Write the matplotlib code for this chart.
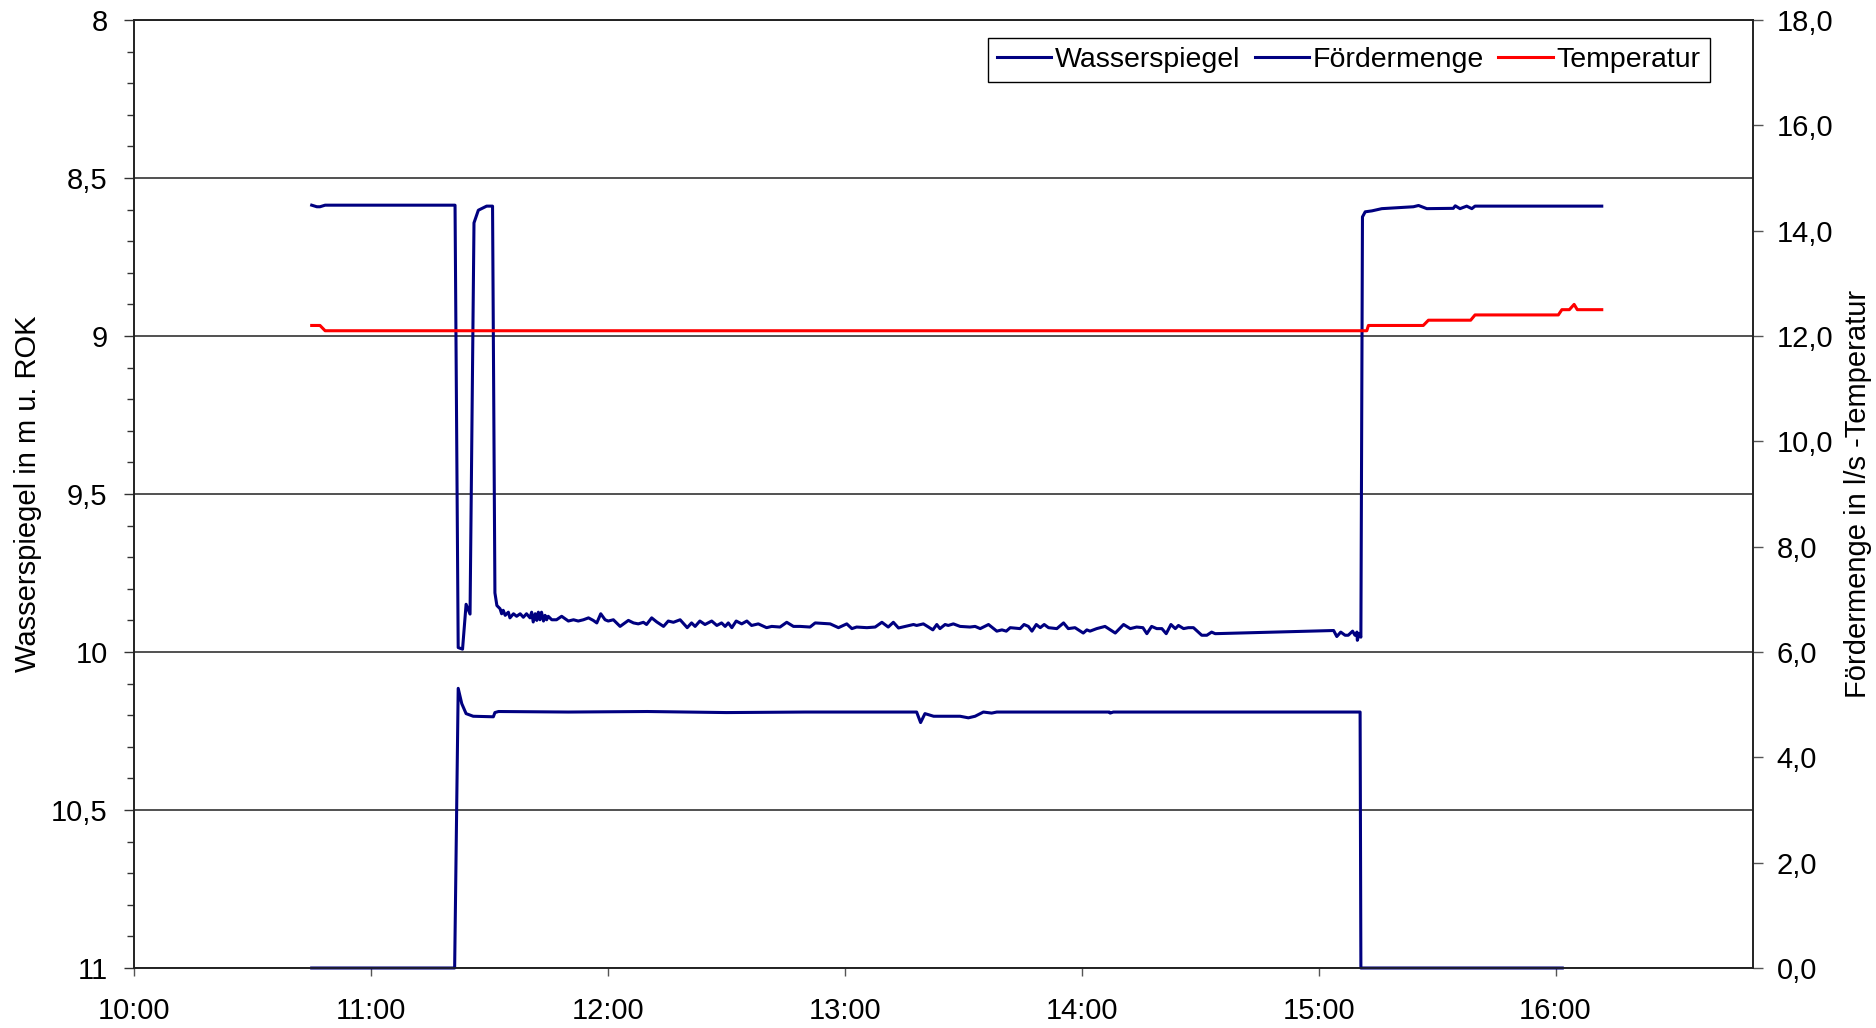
import numpy as np
import matplotlib
matplotlib.use("Agg")
import matplotlib.pyplot as plt
from matplotlib.ticker import MultipleLocator, FixedLocator, FixedFormatter

plt.rcParams['font.family'] = ['Liberation Sans', 'DejaVu Sans']

# time in minutes after 10:00
# Wasserspiegel in m u. ROK (left axis, inverted)
ws_points = [
    (45.0, 8.586), (46.3, 8.591), (47.1, 8.591), (48.4, 8.586), (81.3, 8.586),
    (82.1, 9.986), (83.2, 9.991), (84.1, 9.849), (85.1, 9.880), (86.1, 8.642),
    (87.2, 8.602), (89.3, 8.589), (90.8, 8.589), (91.4, 9.813), (91.9, 9.853),
    (92.7, 9.863), (93.1, 9.879), (93.5, 9.868), (94.0, 9.884), (94.8, 9.874),
    (95.2, 9.892), (96.1, 9.879), (96.9, 9.887), (97.8, 9.879), (98.6, 9.890),
    (99.4, 9.879), (100.3, 9.892), (100.7, 9.874), (101.1, 9.905), (101.6, 9.879),
    (102.0, 9.900), (102.4, 9.874), (102.8, 9.898), (103.2, 9.874), (103.7, 9.902),
    (104.1, 9.884), (104.5, 9.898), (104.9, 9.887), (105.8, 9.898), (107.0, 9.898),
    (108.3, 9.887), (110.0, 9.902), (111.3, 9.898), (112.5, 9.902), (113.8, 9.898),
    (115.1, 9.892), (116.3, 9.900), (117.2, 9.908), (118.2, 9.879), (119.3, 9.898),
    (120.1, 9.902), (121.4, 9.898), (123.1, 9.919), (125.2, 9.900), (126.5, 9.908),
    (127.7, 9.911), (129.0, 9.906), (129.8, 9.913), (131.1, 9.892), (132.4, 9.905),
    (134.1, 9.919), (135.3, 9.902), (136.6, 9.906), (138.3, 9.898), (140.1, 9.923),
    (141.2, 9.908), (142.1, 9.919), (143.3, 9.902), (144.6, 9.913), (146.3, 9.902),
    (147.6, 9.916), (148.8, 9.908), (149.7, 9.919), (150.5, 9.908), (151.4, 9.923),
    (152.5, 9.902), (153.9, 9.911), (155.2, 9.902), (156.4, 9.916), (158.1, 9.911),
    (160.2, 9.923), (161.5, 9.919), (163.6, 9.921), (165.3, 9.906), (167.0, 9.919),
    (168.7, 9.919), (171.2, 9.921), (172.5, 9.908), (176.3, 9.911), (178.4, 9.923),
    (180.5, 9.911), (181.8, 9.926), (183.0, 9.921), (185.6, 9.923), (187.7, 9.921),
    (189.4, 9.906), (191.0, 9.921), (192.3, 9.906), (193.6, 9.924), (195.3, 9.919),
    (197.4, 9.913), (198.2, 9.916), (199.9, 9.911), (201.2, 9.921), (202.3, 9.930),
    (203.3, 9.913), (204.1, 9.926), (205.4, 9.913), (206.2, 9.916), (207.5, 9.911),
    (209.2, 9.919), (211.7, 9.921), (213.0, 9.919), (214.3, 9.926), (216.4, 9.913),
    (218.5, 9.934), (219.8, 9.930), (220.9, 9.934), (221.9, 9.923), (224.4, 9.926),
    (225.4, 9.913), (226.5, 9.919), (227.4, 9.934), (228.5, 9.913), (229.5, 9.923),
    (230.5, 9.913), (231.6, 9.923), (233.7, 9.926), (235.4, 9.908), (236.6, 9.926),
    (238.3, 9.923), (240.4, 9.940), (241.3, 9.930), (242.1, 9.934), (243.8, 9.926),
    (245.9, 9.919), (248.5, 9.940), (250.6, 9.913), (252.3, 9.926), (253.9, 9.921),
    (255.5, 9.923), (256.5, 9.942), (257.7, 9.919), (259.0, 9.926), (260.3, 9.926),
    (261.4, 9.942), (262.6, 9.913), (263.7, 9.926), (264.5, 9.916), (265.8, 9.926),
    (267.0, 9.923), (268.3, 9.923), (270.4, 9.947), (271.7, 9.947), (272.9, 9.937),
    (273.8, 9.942), (303.8, 9.932), (304.6, 9.951), (305.6, 9.937), (306.7, 9.947),
    (307.5, 9.947), (308.6, 9.934), (309.2, 9.947), (309.7, 9.937), (309.8, 9.963),
    (310.3, 9.942), (310.7, 9.953), (311.1, 8.623), (311.8, 8.607), (313.5, 8.604),
    (316.0, 8.597), (324.0, 8.591), (325.3, 8.587), (327.4, 8.597), (334.1, 8.596),
    (334.6, 8.588), (335.8, 8.597), (337.5, 8.589), (338.8, 8.597), (339.6, 8.589),
    (371.7, 8.589),
]

# Fördermenge in l/s (right axis)
fm_points = [
    (45.0, 0.0), (81.2, 0.0), (82.1, 5.31), (83.0, 5.02), (84.1, 4.83),
    (85.9, 4.78), (91.0, 4.77), (91.4, 4.85), (92.3, 4.87), (110.0, 4.86),
    (130.0, 4.87), (150.0, 4.85), (170.0, 4.86), (198.2, 4.86), (199.2, 4.66),
    (200.3, 4.83), (202.5, 4.78), (209.2, 4.78), (211.3, 4.75), (213.0, 4.78),
    (215.1, 4.86), (217.2, 4.84), (218.5, 4.86), (247.0, 4.86), (247.2, 4.84),
    (248.0, 4.86), (280.0, 4.86), (310.5, 4.86), (310.7, 0.0), (361.7, 0.0),
]

# Temperatur (right axis)
temp_points = [
    (45.0, 12.2), (47.1, 12.2), (48.4, 12.1), (312.2, 12.1), (312.6, 12.2),
    (326.5, 12.2), (327.8, 12.3), (338.5, 12.3), (339.6, 12.4), (360.7, 12.4),
    (361.6, 12.5), (363.5, 12.5), (364.7, 12.6), (365.5, 12.5), (371.7, 12.5),
]

x_ticks = [0, 60, 120, 180, 240, 300, 360]
x_labels = ['10:00', '11:00', '12:00', '13:00', '14:00', '15:00', '16:00']
left_ticks = [8, 8.5, 9, 9.5, 10, 10.5, 11]
left_labels = ['8', '8,5', '9', '9,5', '10', '10,5', '11']
right_ticks = [0, 2, 4, 6, 8, 10, 12, 14, 16, 18]
right_labels = ['0,0', '2,0', '4,0', '6,0', '8,0', '10,0', '12,0', '14,0', '16,0', '18,0']

navy = '#000080'
fs = 21

ws = np.array(ws_points)
fm = np.array(fm_points)
tp = np.array(temp_points)

fig = plt.figure(figsize=(18.76, 10.28), dpi=100)
ax = fig.add_axes([134/1876, 1 - 968/1028, (1753-134)/1876, (968-20)/1028])
ax2 = ax.twinx()

l1, = ax.plot(ws[:, 0], ws[:, 1], color=navy, lw=2.2, label='Wasserspiegel', clip_on=False)
l2, = ax2.plot(fm[:, 0], fm[:, 1], color=navy, lw=2.2, label='Fördermenge', clip_on=False)
l3, = ax2.plot(tp[:, 0], tp[:, 1], color='#ff0000', lw=2.2, label='Temperatur', clip_on=False)

ax.set_xlim(0, 410)
ax.set_ylim(11, 8)
ax2.set_ylim(0, 18)

ax.xaxis.set_major_locator(FixedLocator(x_ticks))
ax.xaxis.set_major_formatter(FixedFormatter(x_labels))
ax.yaxis.set_major_locator(FixedLocator(left_ticks))
ax.yaxis.set_major_formatter(FixedFormatter(left_labels))
ax.yaxis.set_minor_locator(MultipleLocator(0.1))
ax2.yaxis.set_major_locator(FixedLocator(right_ticks))
ax2.yaxis.set_major_formatter(FixedFormatter(right_labels))

ax.tick_params(axis='x', labelsize=fs, length=6, width=1, color='#555555', pad=15)
ax.tick_params(axis='y', which='major', labelsize=fs, length=7, width=1, color='#333333', pad=12)
ax.tick_params(axis='y', which='minor', length=5, width=1, color='#333333')
ax2.tick_params(axis='y', labelsize=fs, length=7, width=1, color='#555555', pad=10)

ax.yaxis.grid(True, which='major', color='#333333', lw=1.2)
ax.set_axisbelow(True)
for a in (ax, ax2):
    for s in a.spines.values():
        s.set_color('#222222')
        s.set_linewidth(1.2)

ax.set_ylabel('Wasserspiegel in m u. ROK', fontsize=fs)
ax.yaxis.set_label_coords(-0.057, 0.5)
ax2.set_ylabel('Fördermenge in l/s -Temperatur', fontsize=fs)
ax2.yaxis.set_label_coords(1.056, 0.5)

leg = ax2.legend(handles=[l1, l2, l3], loc='upper right', ncol=3, fontsize=20.5,
                 frameon=True, fancybox=False, framealpha=1, edgecolor='black',
                 handlelength=1.9, handletextpad=0.15, columnspacing=0.5,
                 borderpad=0.32, borderaxespad=0, bbox_to_anchor=(0.9734, 0.981))
leg.get_frame().set_linewidth(1.0)

fig.savefig('out.png', dpi=100)
